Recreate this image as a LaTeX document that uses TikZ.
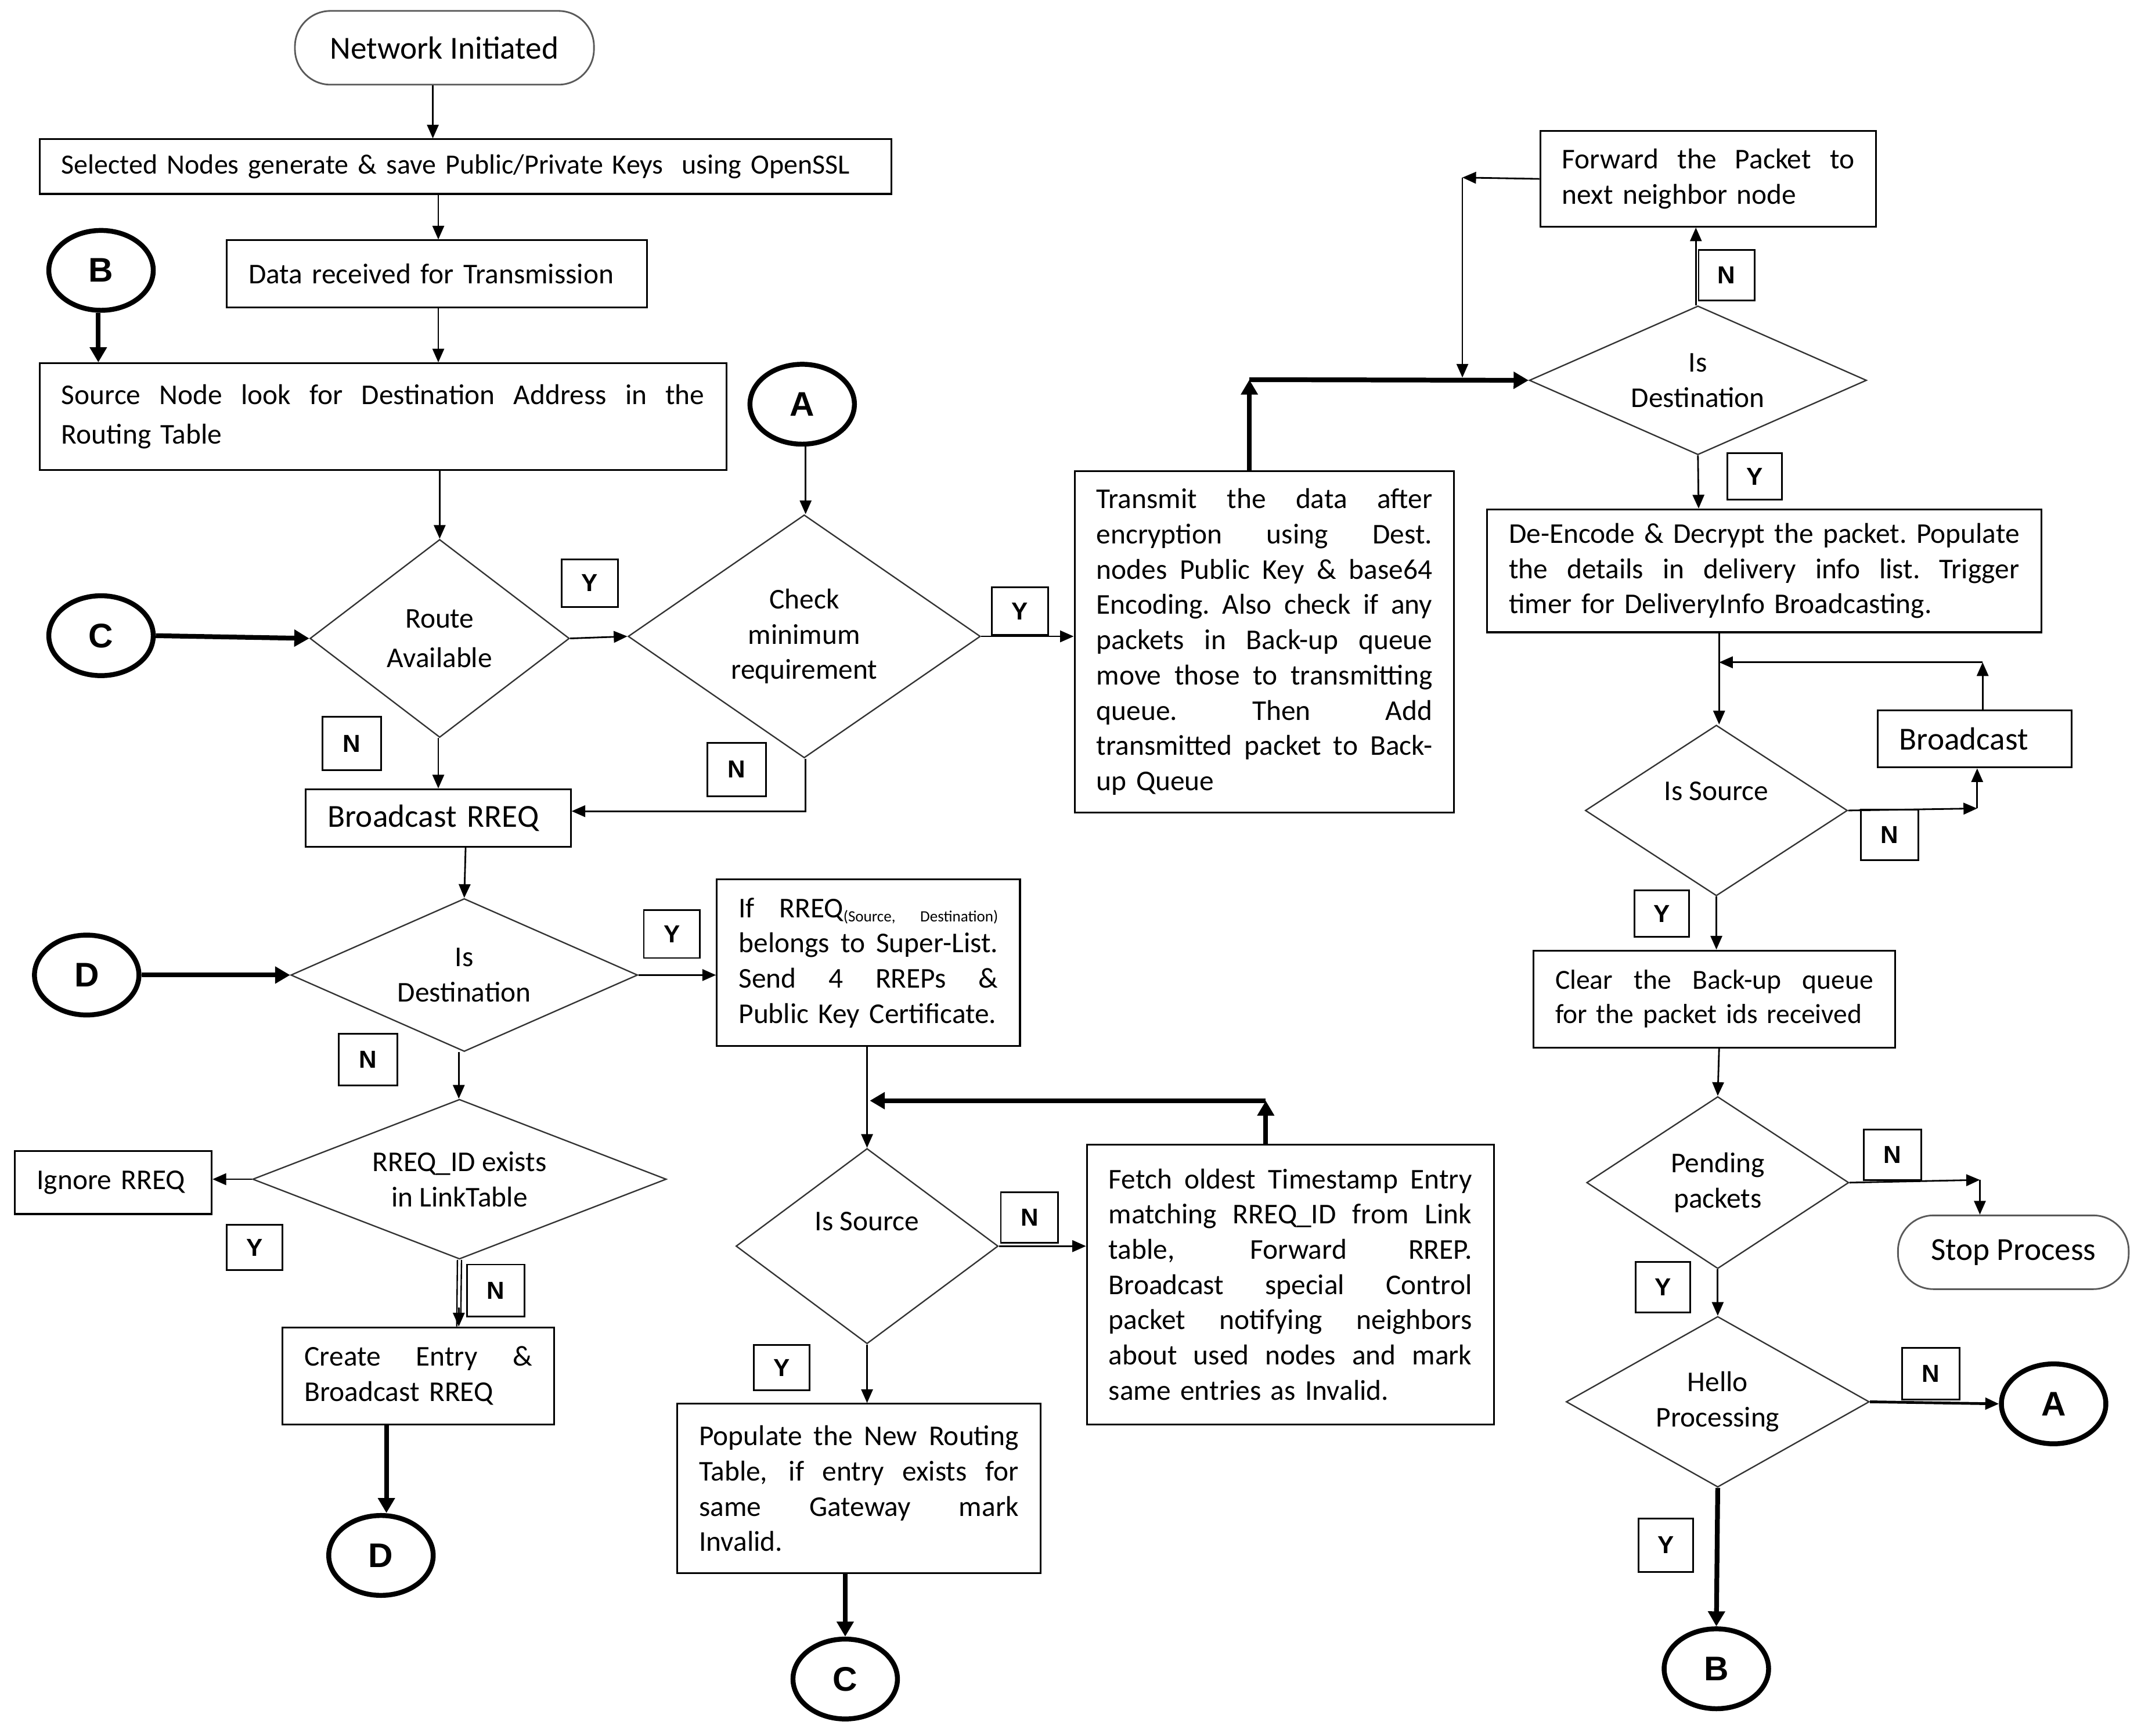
\documentclass[tikz,border=0pt]{standalone}
\usepackage{fontspec}
\setmainfont{Carlito}
\newfontfamily\lblfont{Liberation Sans}
\usetikzlibrary{arrows.meta,shapes.geometric}
\hyphenpenalty=10000
\exhyphenpenalty=10000
\newcommand{\jl}[1]{\makebox[\hsize][s]{\spaceskip=0.226em plus 1fil\xspaceskip=0.226em plus 1fil\relax #1}}
\newcommand{\sbx}[1]{\raisebox{-3pt}{\fontsize{11.5}{11.5}\selectfont #1}}
\newcommand{\ftxt}{\fontsize{21}{25.8}\selectfont}
\begin{document}
\begin{tikzpicture}[x=1pt,y=-1pt,
  box/.style={draw, line width=1.3pt, rectangle, inner xsep=16pt, inner ysep=0pt, align=left, font=\ftxt},
  term/.style={draw=black!65, line width=1.2pt, rectangle, rounded corners=26pt, minimum height=54pt, inner sep=0pt, font=\fontsize{23.5}{28}\selectfont},
  dia/.style={draw=black!80, line width=1pt, diamond, inner sep=0pt, align=center, font=\ftxt},
  dtext/.style={inner sep=0pt, font=\ftxt},
  yn/.style={draw, line width=1.2pt, rectangle, minimum width=41pt, minimum height=35pt, inner sep=0pt, font=\lblfont\bfseries\fontsize{18}{18}\selectfont},
  conn/.style={draw, line width=3.6pt, ellipse, minimum width=76.5pt, minimum height=58.5pt, inner sep=0pt, font=\lblfont\bfseries\fontsize{25}{25}\selectfont},
  arr/.style={line width=1.2pt, -{Triangle[length=10pt,width=8.5pt]}},
  tarr/.style={line width=3.5pt, -{Triangle[length=11pt,width=12pt]}}
]
\useasboundingbox[fill=white] (0,0) rectangle (1568,1271);

% ---------- left column ----------
\node[term, minimum width=219pt] (start) at (325.5,35) {Network Initiated};
\node[box, text width=592pt, minimum height=40pt, font=\fontsize{20.4}{25}\selectfont] (keys) at (341,122) {Selected Nodes generate \& save Public/Private Keys\ \ using OpenSSL};
\node[box, text width=276pt, minimum height=49pt] (data) at (320,200.5) {Data received for Transmission};
\node[box, text width=471pt, minimum height=78pt, font=\fontsize{21}{29}\selectfont] (src) at (280.5,305) {\jl{Source Node look for Destination Address in the}\\Routing Table};

\node[conn] (cB1) at (74,198) {B};
\node[conn] (cA1) at (587.5,296) {A};
\node[conn] (cC1) at (74,465.5) {C};
\node[conn] (cD1) at (63.5,714) {D};
\node[conn] (cD2) at (279,1139) {D};
\node[conn] (cC2) at (619,1229.5) {C};
\node[conn] (cA2) at (1504,1028) {A};
\node[conn] (cB2) at (1257,1222) {B};

\node[dia, minimum width=190pt, minimum height=145pt, aspect=1.31, font=\fontsize{21}{29}\selectfont] (route) at (322,467.5) {Route\\Available};
\node[dia, minimum width=258pt, minimum height=178pt, aspect=1.45] (check) at (589,466) {Check\\minimum\\requirement};
\node[box, text width=162pt, minimum height=42pt, font=\fontsize{23.5}{28}\selectfont] (bRREQ) at (321,599) {Broadcast RREQ};
\node[dia, minimum width=254pt, minimum height=112pt, aspect=2.27] (dest1) at (340,714) {Is\\Destination};
\node[box, text width=190pt, minimum height=122pt] (ifbox) at (636,705) {\jl{If RREQ\sbx{(Source,} \sbx{Destination)}}\\\jl{belongs to Super-List.}\\\jl{Send 4 RREPs \&}\\Public Key Certificate.};
\node[dia, minimum width=303pt, minimum height=117pt, aspect=2.59] (rid) at (336.5,863.5) {RREQ\_ID exists\\in LinkTable};
\node[box, text width=112pt, minimum height=46pt] (ignore) at (83,866) {Ignore RREQ};
\node[box, text width=167pt, minimum height=71pt] (create) at (306.5,1007.5) {\jl{Create Entry \&}\\Broadcast RREQ};

% ---------- middle column ----------
\node[dia, minimum width=192pt, minimum height=143pt] (src2) at (635,912.5) {};
\node[dtext] (src2t) at ([yshift=18pt]src2.center) {Is Source};
\node[box, text width=266pt, minimum height=205pt] (fetch) at (945,940.5) {\jl{Fetch oldest Timestamp Entry}\\\jl{matching RREQ\_ID from Link}\\\jl{table, Forward RREP.}\\\jl{Broadcast special Control}\\\jl{packet notifying neighbors}\\\jl{about used nodes and mark}\\same entries as Invalid.};
\node[box, text width=234pt, minimum height=124pt] (populate) at (629,1090) {\jl{Populate the New Routing}\\\jl{Table, if entry exists for}\\\jl{same Gateway mark}\\Invalid.};
\node[box, text width=246pt, minimum height=250pt] (transmit) at (926,470) {\jl{Transmit the data after}\\\jl{encryption using Dest.}\\\jl{nodes Public Key \& base64}\\\jl{Encoding. Also check if any}\\\jl{packets in Back-up queue}\\\jl{move those to transmitting}\\\jl{queue. Then Add}\\\jl{transmitted packet to Back-}\\up Queue};

% ---------- right column ----------
\node[dia, minimum width=247pt, minimum height=109pt, aspect=2.27] (dest2) at (1243.5,278.5) {Is\\Destination};
\node[box, text width=214pt, minimum height=70pt] (forward) at (1251,131) {\jl{Forward the Packet to}\\next neighbor node};
\node[box, text width=374pt, minimum height=90pt] (decode) at (1292,418) {\jl{De-Encode \& Decrypt the packet. Populate}\\\jl{the details in delivery info list. Trigger}\\timer for DeliveryInfo Broadcasting.};
\node[box, text width=110pt, minimum height=42pt, font=\fontsize{23.5}{28}\selectfont] (bcast) at (1446,541) {Broadcast};
\node[dia, minimum width=192pt, minimum height=125pt] (src3) at (1257,593.5) {};
\node[dtext] (src3t) at ([yshift=14pt]src3.center) {Is Source};
\node[box, text width=233pt, minimum height=71pt, font=\fontsize{20.2}{25}\selectfont] (clear) at (1255.5,731.5) {\jl{Clear the Back-up queue}\\for the packet ids received};
\node[dia, minimum width=192pt, minimum height=126pt, aspect=1.52] (pend) at (1258,866) {Pending\\packets};
\node[term, minimum width=169pt] (stop) at (1474.5,917) {Stop Process};
\node[dia, minimum width=222pt, minimum height=125pt, aspect=1.78] (hello) at (1258,1026.5) {Hello\\Processing};

% ---------- Y / N labels ----------
\node[yn] (yR) at (432,427) {Y};
\node[yn] (yC) at (747,447.5) {Y};
\node[yn, minimum width=43pt, minimum height=39pt] (nR) at (257.5,544.5) {N};
\node[yn, minimum width=43pt, minimum height=39pt] (nC) at (539.5,563.5) {N};
\node[yn] (yD) at (492,684) {Y};
\node[yn, minimum width=43pt, minimum height=38pt] (nD) at (269.5,776) {N};
\node[yn, minimum height=33pt] (yI) at (186.5,913.5) {Y};
\node[yn, minimum width=42pt, minimum height=38pt] (nI) at (363,945) {N};
\node[yn, minimum width=42pt, minimum height=37pt] (nS) at (754,891.5) {N};
\node[yn, minimum height=33pt] (yS) at (572.5,1001.5) {Y};
\node[yn, minimum height=37pt] (nF) at (1264.5,201.5) {N};
\node[yn, minimum width=40pt, minimum height=34pt] (yF) at (1285,349) {Y};
\node[yn, minimum width=42pt, minimum height=37pt] (nB) at (1384,611.5) {N};
\node[yn, minimum width=40pt, minimum height=34pt] (yB) at (1217,669) {Y};
\node[yn, minimum width=42pt, minimum height=37pt] (nP) at (1386,845.5) {N};
\node[yn, minimum width=40pt, minimum height=37pt] (yP) at (1218,942.5) {Y};
\node[yn, minimum width=42pt, minimum height=38pt] (nH) at (1414,1006) {N};
\node[yn, minimum width=40pt, minimum height=39pt] (yH) at (1220,1131.5) {Y};

% ---------- helper coordinates ----------
\coordinate (f1) at (927,806);
\coordinate (t1) at (915,278);
\coordinate (w1) at (1071,130);
\coordinate (b1) at (1452,485);
\coordinate (b2) at (1259,485);
\coordinate (s1) at (1448,592);
\coordinate (p1) at (1450,864);

% ---------- connectors ----------
\draw[arr] ([xshift=-8.5pt]start.south) -- ([xshift=-24pt]keys.north);
\draw[arr] ([xshift=-20pt]keys.south) -- ([xshift=1pt]data.north);
\draw[arr] ([xshift=1pt]data.south) -- ([xshift=40.5pt]src.north);
\draw[tarr] ([xshift=-2pt]cB1.south) -- ([xshift=-208.5pt]src.north);
\draw[arr] ([xshift=41.5pt]src.south) -- (route.north);
\draw[arr] ([xshift=2.5pt]cA1.south) -- ([xshift=1pt]check.north);
\draw[tarr] (cC1.east) -- (route.west);
\draw[arr] (route.east) -- (check.west);
\draw[arr] (check.east) -- (check.east -| transmit.west);
\draw[arr] ([xshift=-1pt]route.south) -- (bRREQ.north);
\draw[arr] ([xshift=1pt]check.south) |- ([yshift=5pt]bRREQ.east);
\draw[arr] ([xshift=20pt]bRREQ.south) -- (dest1.north);
\draw[tarr] (cD1.east) -- (dest1.west);
\draw[arr] (dest1.east) -- (dest1.east -| ifbox.west);
\draw[arr] ([xshift=-4pt]dest1.south) -- ([xshift=-0.5pt]rid.north);
\draw[arr] (rid.west) -- (rid.west -| ignore.east);
\draw[line width=1pt] ([xshift=-1.5pt]rid.south) -- ([xshift=28pt]create.north);
\draw[line width=1pt] ([xshift=1.5pt]rid.south) -- ([xshift=31pt,yshift=10pt]create.north);
\draw[arr] ([xshift=29.5pt,yshift=14pt]create.north) -- ([xshift=29.5pt]create.north);
\draw[tarr] ([xshift=-23.5pt]create.south) -- ([xshift=4pt]cD2.north);
\draw[arr] ([xshift=-1pt]ifbox.south) -- (src2.north);
\draw[tarr] (fetch.north -| f1) -- (f1);
\draw[tarr] (f1) -- ([xshift=2pt]src2.north |- f1);
\draw[arr] (src2.east) -- (src2.east -| fetch.west);
\draw[arr] (src2.south) -- ([xshift=6pt]populate.north);
\draw[tarr] ([xshift=-10pt]populate.south) -- (cC2.north);
\draw[tarr] (transmit.north -| t1) -- (t1);
\draw[tarr] (t1) -- (dest2.west);
\draw[arr] (forward.west) -- (w1);
\draw[arr] (w1) -- ([yshift=2pt]w1 |- dest2.west);
\draw[arr] ([xshift=-1.5pt]dest2.north) -- ([xshift=-9pt]forward.south);
\draw[arr] (dest2.south) -- ([xshift=-48pt]decode.north);
\draw[arr] ([xshift=-33pt]decode.south) -- ([xshift=2pt]src3.north);
\draw[arr] ([xshift=6pt]bcast.north) -- (b1);
\draw[arr] (b1) -- (b2);
\draw[arr] (src3.east) -- (s1);
\draw[arr] (s1) -- (s1 |- bcast.south);
\draw[arr] (src3.south) -- ([xshift=1.5pt]clear.north);
\draw[arr] ([xshift=3.5pt]clear.south) -- (pend.north);
\draw[arr] (pend.east) -- (p1);
\draw[arr] (p1) -- (p1 |- stop.north);
\draw[arr] (pend.south) -- (hello.north);
\draw[arr, line width=2pt] (hello.east) -- (cA2.west);
\draw[tarr] (hello.south) -- (cB2.north);
\end{tikzpicture}
\end{document}
